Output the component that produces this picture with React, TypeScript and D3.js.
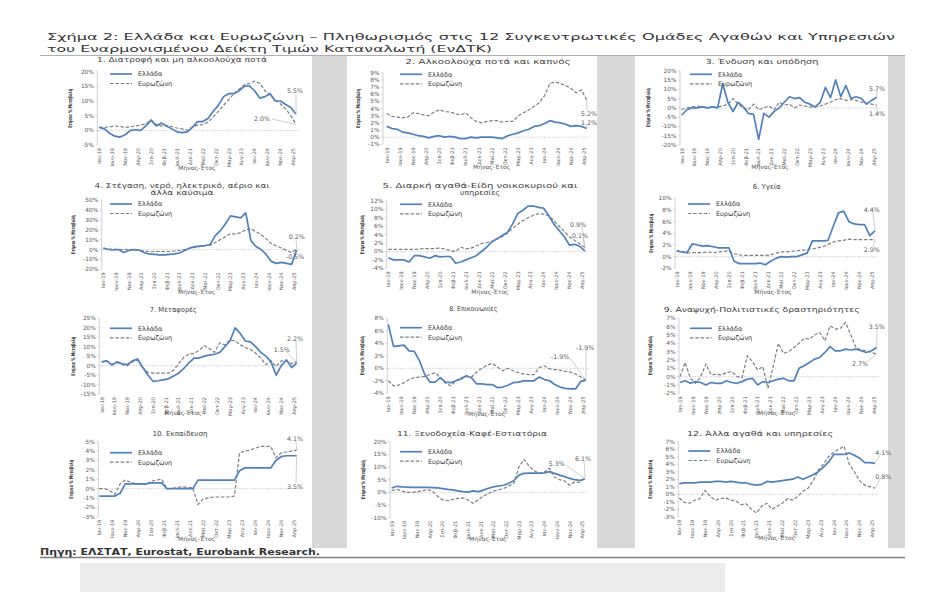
import React from "react";
import * as d3 from "d3";

const FONT = "'DejaVu Sans', Verdana, sans-serif";
const GR_COLOR = "#4f81bd";
const EZ_COLOR = "#7f7f7f";
const TXT = "#404040";

const monthLabels = ["Ιαν-19","Ιουν-19","Νοε-19","Απρ-20","Σεπ-20","Φεβ-21","Ιουλ-21","Δεκ-21","Μαϊ-22","Οκτ-22","Μαρ-23","Αυγ-23","Ιαν-24","Ιουν-24","Νοε-24","Απρ-25"];
const legendNames = ["Ελλάδα", "Ευρωζώνη"];

const gr1 = [1.0,0.5,-1.0,-2.0,-2.3,-1.5,0.0,0.2,0.0,1.5,3.5,1.5,2.5,1.5,0.5,-0.5,-0.8,-0.5,1.0,3.0,3.0,4.0,6.5,8.5,11.5,12.5,12.5,13.5,15.0,15.2,13.5,11.0,11.5,12.5,10.0,10.0,8.8,7.8,5.5];
const ez1 = [1.0,1.0,1.2,1.5,1.3,1.0,1.2,1.5,1.8,2.2,3.5,2.0,1.5,1.5,1.3,0.8,0.5,0.0,1.2,1.8,2.0,2.8,4.5,6.5,8.5,10.5,12.5,14.0,15.5,16.0,16.8,16.0,13.5,12.0,10.3,9.0,7.3,5.0,2.0];
const gr2 = [1.5,1.2,1.1,0.7,0.6,0.4,0.2,0.1,-0.1,0.1,0.2,0.0,0.1,0.0,-0.2,-0.2,0.0,-0.1,0.0,0.0,0.0,-0.1,-0.2,0.2,0.4,0.6,0.9,1.1,1.5,1.6,1.9,2.3,2.1,2.0,1.8,1.5,1.6,1.5,1.2];
const ez2 = [3.3,2.9,2.8,2.7,2.8,3.4,3.3,3.1,3.0,3.5,3.8,3.6,3.5,3.3,3.1,3.4,2.7,2.2,2.0,2.2,2.3,2.3,2.1,2.2,2.2,3.0,3.4,3.8,4.3,4.8,5.8,7.5,7.7,7.5,7.2,6.8,6.2,6.6,5.2];
const gr3 = [-4,-1,0,0,0.5,0,0.5,0,13,3,-2,3,0.5,-3,-3.5,-17,-3,-5,-2,0,3,6,5,5.5,3,2,0.5,3,11,5.5,15,6,12,5,6,5,2,4,5.7];
const ez3 = [-1,0,0.5,1,0.5,0,0.3,0.5,1,2,5,2,0,-1,2,-1,0,1,-1,3,1.5,2,0,1.5,1,0.5,0.5,1,2,3,4.5,5,4,4.5,4,3,2.5,2,1.4];
const gr4 = [1.5,0,-0.5,0,-3,-1,0,-0.5,-3,-4.5,-5,-5.5,-5.5,-5,-4.5,-3.5,-1,1.5,3,3.5,4,5,14,19,26,34,33,32,37,9,3,0,-5,-12,-14,-13,-14,-15,-0.5];
const ez4 = [1,0.5,0.5,0,0,0,-0.5,-1,-1.5,-2,-2,-2,-2,-2,-1.5,-1,0,1,2,3,4,4.5,7,10,13,16,15.5,17,20,21,18,15,11,6,3.5,1.5,-1,-3,0.2];
const gr5 = [-1.5,-2,-2,-2,-2.5,-1,-1,-1.3,-1.6,-1,-1.3,-1.2,-1.2,-2.8,-2.5,-2,-1.5,-1,0,1,2.3,3,3.8,4.5,6.5,9,9.8,10.8,10.8,10.5,10.3,8.5,6.5,5,3.5,1.5,1.7,1.2,0.1];
const ez5 = [0.5,0.5,0.5,0.5,0.5,0.5,0.6,0.7,0.7,0.7,0.8,0.6,0.2,0,1,0.6,0.8,1.3,1.9,2.1,2.4,3,3.5,4.3,5.5,6.5,7.3,8,8.6,9,8.9,8.5,7.3,6,4.8,3.5,2.6,1.8,0.9];
const gr6 = [1,0.8,0.7,2.2,2,1.8,1.9,1.7,1.5,1.5,1.5,-0.8,-1.2,-1.2,-1.2,-1.2,-1.1,-1.4,-0.8,-0.3,0,-0.1,0,0,0.3,0.6,2.7,2.7,2.7,2.8,5.2,7.5,7.8,6,5.6,5.5,5.5,3.6,4.4];
const ez6 = [1,0.8,0.6,0.7,0.7,0.7,0.8,0.7,0.8,0.9,1,0.5,0.3,0.2,0.2,0.2,0.2,0.2,0.3,0.6,0.8,0.8,0.9,1.0,1.1,1.2,1.3,1.5,1.7,2.1,2.5,2.7,2.8,3.0,2.9,2.9,2.9,2.9,2.9];
const gr7 = [2,2.5,0.3,2,1,0.5,2.5,3.5,-1,-5,-8.3,-8,-7.5,-7,-5.5,-4,-1.5,1.5,4,4,5,5.5,6,7,10,13,20,17,13,12.5,10,7,5,2,-5,0,3,-1,1.5];
const ez7 = [2,2.5,0.8,1.5,0.5,0,2,3,-1,-3.5,-4,-4,-4,-4,-2.5,1,4.5,6,6.5,8,10.5,9,7,12,11,13.5,13,11,9.5,8.5,6.5,4,0.5,2.5,-0.5,2.5,2.5,1,2.2];
const gr8 = [7,3.5,3.6,3.7,2.8,2.7,1.2,-1.0,-2.2,-2.2,-1.5,-2.2,-2.3,-2.0,-1.7,-1.2,-1.5,-2.5,-2.5,-2.6,-2.6,-3.1,-3.0,-2.7,-2.3,-2.2,-2.0,-2.0,-2.0,-1.4,-1.8,-2.0,-2.6,-3.0,-3.2,-3.3,-3.3,-2.1,-1.9];
const ez8 = [-2,-2.8,-2.7,-2.3,-1.8,-1.5,-1.4,-1.3,-1.0,-0.7,-1.5,-2.4,-2.8,-2.0,-1.5,-1.3,-1.4,-0.6,0,0.5,0.8,0.2,-0.4,0,-0.4,-0.7,-0.9,-1.0,-1.0,0.1,0.4,-0.1,-0.2,-0.3,-0.5,-0.6,-0.9,-1.4,-1.9];
const gr9 = [-0.7,-0.5,-0.8,-0.6,-0.7,-1.0,-0.7,-0.8,-0.8,-0.5,-0.7,-0.8,-0.6,-0.3,-0.2,-1.0,-0.6,-0.7,-0.5,-0.3,-0.2,-0.5,-0.5,1.0,1.3,1.7,2.1,2.3,2.9,3.6,3.1,3.1,3.3,3.2,3.3,3.1,2.9,3.1,3.5];
const ez9 = [0,1.7,-0.2,-0.8,0,1.5,0.2,0.3,0.2,0.5,0.6,0.0,-0.1,2.5,1.8,0.8,1.2,-1.4,1.2,4.0,2.8,3.0,3.5,4.0,4.6,4.5,5.0,5.3,4.3,6.1,5.7,5.8,6.5,5.0,3.5,3.2,3.1,2.9,2.7];
const gr10 = [-0.8,-0.8,-0.8,-0.8,-0.5,0.5,0.5,0.5,0.5,0.5,0.6,0.6,0.6,0,0,0,0,0,0,0.9,0.9,0.9,0.9,0.9,0.9,0.9,0.9,1.9,2.2,2.2,2.2,2.2,2.2,2.2,3.0,3.4,3.5,3.5,3.5];
const ez10 = [0,0,-0.2,-0.6,0.5,0.9,0.7,0.5,0.5,0.4,0.8,0.9,1.0,0,0,0.1,0.2,0.1,0.1,-1.7,-1.1,-1.0,-0.9,-0.9,-0.9,-0.9,-0.8,3.8,4.0,4.1,4.3,4.5,4.5,4.5,3.3,3.8,3.9,4.0,4.1];
const gr11 = [1.7,2.4,2.2,2.1,2.0,2.0,2.0,2.0,1.9,1.8,1.5,1.2,1.0,0.6,0.3,0.1,0.6,0.3,0.9,1.6,2.2,2.5,2.8,3.6,4.6,6.8,7.5,7.6,7.6,7.6,7.7,8.2,7.5,6.8,6.2,5.5,5.0,4.7,5.3];
const ez11 = [0.7,1.2,0.5,0.0,0.0,0.3,0.5,1.2,0.5,-1.5,-2.9,-3.3,-2.8,-2.4,-2.2,-3.0,-4.3,-3.0,-1.5,-0.5,0.5,1.0,1.5,2.5,3.5,10.0,13.0,10.5,8.5,7.5,8.0,9.5,6.0,5.0,4.5,2.8,4.2,3.9,6.1];
const gr12 = [1.4,1.5,1.5,1.5,1.6,1.6,1.6,1.7,1.7,1.6,1.7,1.6,1.5,1.5,1.3,1.2,1.3,1.7,1.6,1.7,1.8,1.9,2.0,2.3,2.0,2.3,2.6,3.0,3.6,4.3,5.3,5.3,5.3,5.5,5.2,4.8,4.2,4.2,4.1];
const ez12 = [-0.5,-1.1,-1.2,-0.8,-0.6,0.5,-0.3,-0.8,-0.6,-0.5,-0.8,-0.9,-1.4,-1.3,-2.0,-2.5,-1.6,-1.2,-2.0,-1.6,-1.2,-0.6,-0.8,-0.3,0.4,0.8,1.8,3.2,4.0,5.0,5.6,6.0,6.4,4.0,3.0,1.8,1.2,1.0,0.8];

type Ann = { t: string; s: "gr" | "ez"; x: number; y: number; lx: number; ly: number };
type P = {
  title: string[]; tw: number[]; gr: number[]; ez: number[]; yMin: number; yMax: number; step: number;
  x0: number; x1: number; yTop: number; yBot: number; ax: number;
  tx: number; ty: number; lgx: number; lgy: number; ylx: number; xtx: number; xty: number;
  ann: Ann[];
};

const panels: P[] = [
  { title: ["1. Διατροφή και μη αλκοολούχα ποτά"], tw: [170], gr: gr1, ez: ez1, yMin: -5, yMax: 20, step: 5,
    x0: 99.3, x1: 296, yTop: 71.7, yBot: 145, ax: 97.3, tx: 182, ty: 60, lgx: 110, lgy: 74, ylx: 70, xtx: 197, xty: 168,
    ann: [{ t: "5.5%", s: "gr", x: 295, y: 91, lx: 296, ly: 94 }, { t: "2.0%", s: "ez", x: 262, y: 119, lx: 272, ly: 119 }] },
  { title: ["2. Αλκοολούχα ποτά και καπνός"], tw: [165], gr: gr2, ez: ez2, yMin: -1, yMax: 9, step: 1,
    x0: 386.7, x1: 586.7, yTop: 72.7, yBot: 144.3, ax: 383, tx: 488, ty: 61.7, lgx: 400, lgy: 74.3, ylx: 358, xtx: 491.7, xty: 167,
    ann: [{ t: "5.2%", s: "ez", x: 589, y: 114, lx: 587, ly: 111 }, { t: "1.2%", s: "gr", x: 589, y: 122.5, lx: 587, ly: 125 }] },
  { title: ["3. Ένδυση και υπόδηση"], tw: [113], gr: gr3, ez: ez3, yMin: -20, yMax: 20, step: 5,
    x0: 681.7, x1: 876.7, yTop: 70.7, yBot: 145, ax: 680, tx: 762, ty: 61.7, lgx: 690, lgy: 74.3, ylx: 648, xtx: 770, xty: 167,
    ann: [{ t: "5.7%", s: "gr", x: 877, y: 88.3, lx: 877, ly: 91 }, { t: "1.4%", s: "ez", x: 877, y: 114, lx: 877, ly: 111 }] },
  { title: ["4. Στέγαση, νερό, ηλεκτρικό, αέριο και", "άλλα καύσιμα"], tw: [175, 63], gr: gr4, ez: ez4, yMin: -20, yMax: 50, step: 10,
    x0: 103.3, x1: 296.7, yTop: 200, yBot: 269.3, ax: 101.7, tx: 182, ty: 185.8, lgx: 110, lgy: 204, ylx: 73, xtx: 196.7, xty: 292.3,
    ann: [{ t: "0.2%", s: "ez", x: 296.7, y: 236.7, lx: 296, ly: 239 }, { t: "-0.5%", s: "gr", x: 295, y: 256.7, lx: 293, ly: 254 }] },
  { title: ["5. Διαρκή αγαθά-Είδη νοικοκυριού και", "υπηρεσίες"], tw: [195, 40], gr: gr5, ez: ez5, yMin: -4, yMax: 12, step: 2,
    x0: 388.3, x1: 585, yTop: 201, yBot: 268.3, ax: 386.7, tx: 480, ty: 185.2, lgx: 400, lgy: 204.3, ylx: 362, xtx: 490, xty: 291.7,
    ann: [{ t: "0.9%", s: "ez", x: 578, y: 225, lx: 582, ly: 227 }, { t: "0.1%", s: "gr", x: 580, y: 236, lx: 583, ly: 238 }] },
  { title: ["6. Υγεία"], tw: [28], gr: gr6, ez: ez6, yMin: -2, yMax: 10, step: 2,
    x0: 676.7, x1: 875, yTop: 198.3, yBot: 268.3, ax: 675, tx: 766.7, ty: 186.7, lgx: 688, lgy: 204, ylx: 651, xtx: 773, xty: 292.3,
    ann: [{ t: "4.4%", s: "gr", x: 871.7, y: 209.3, lx: 873, ly: 212 }, { t: "2.9%", s: "ez", x: 871.7, y: 250, lx: 873, ly: 247 }] },
  { title: ["7. Μεταφορές"], tw: [47], gr: gr7, ez: ez7, yMin: -15, yMax: 25, step: 5,
    x0: 101.7, x1: 296.7, yTop: 318.3, yBot: 394, ax: 99.3, tx: 173.3, ty: 310, lgx: 110, lgy: 328.3, ylx: 73, xtx: 183, xty: 413.3,
    ann: [{ t: "2.2%", s: "ez", x: 295, y: 338.3, lx: 296, ly: 341 }, { t: "1.5%", s: "gr", x: 281.7, y: 350, lx: 287, ly: 352 }] },
  { title: ["8. Επικοινωνίες"], tw: [48], gr: gr8, ez: ez8, yMin: -4, yMax: 8, step: 2,
    x0: 388.3, x1: 586, yTop: 318.3, yBot: 393.3, ax: 387.3, tx: 473.3, ty: 309, lgx: 400, lgy: 327.7, ylx: 362, xtx: 486.7, xty: 414.3,
    ann: [{ t: "-1.9%", s: "ez", x: 560, y: 356.7, lx: 570, ly: 358 }, { t: "-1.9%", s: "gr", x: 585, y: 347.7, lx: 586, ly: 350 }] },
  { title: ["9. Αναψυχή-Πολιτιστικές δραστηριότητες"], tw: [196], gr: gr9, ez: ez9, yMin: -2, yMax: 7, step: 1,
    x0: 680, x1: 876.7, yTop: 318.3, yBot: 393.3, ax: 679, tx: 761.7, ty: 310, lgx: 690, lgy: 328.3, ylx: 650, xtx: 776.7, xty: 413.3,
    ann: [{ t: "3.5%", s: "gr", x: 876.7, y: 326.7, lx: 877, ly: 329 }, { t: "2.7%", s: "ez", x: 860, y: 363.3, lx: 868, ly: 361 }] },
  { title: ["10. Εκπαίδευση"], tw: [55], gr: gr10, ez: ez10, yMin: -3, yMax: 5, step: 1,
    x0: 99.3, x1: 296.7, yTop: 441.7, yBot: 516.7, ax: 98.3, tx: 180, ty: 433.3, lgx: 110, lgy: 452.7, ylx: 71, xtx: 196.7, xty: 539.3,
    ann: [{ t: "4.1%", s: "ez", x: 295, y: 438.3, lx: 296, ly: 441 }, { t: "3.5%", s: "gr", x: 295, y: 486.7, lx: 296, ly: 483 }] },
  { title: ["11. Ξενοδοχεία-Καφέ-Εστιατόρια"], tw: [150], gr: gr11, ez: ez11, yMin: -10, yMax: 20, step: 5,
    x0: 391.7, x1: 585, yTop: 441.7, yBot: 517.7, ax: 390, tx: 472, ty: 433.3, lgx: 400, lgy: 451.7, ylx: 363, xtx: 488, xty: 539.3,
    ann: [{ t: "6.1%", s: "ez", x: 583, y: 458.3, lx: 584, ly: 461 }, { t: "5.3%", s: "gr", x: 556.7, y: 463.3, lx: 566, ly: 465 }] },
  { title: ["12. Άλλα αγαθά και υπηρεσίες"], tw: [146], gr: gr12, ez: ez12, yMin: -3, yMax: 7, step: 1,
    x0: 679.3, x1: 875, yTop: 441.7, yBot: 516.7, ax: 678.3, tx: 760, ty: 433.3, lgx: 688.3, lgy: 451, ylx: 650, xtx: 776.7, xty: 538.3,
    ann: [{ t: "4.1%", s: "gr", x: 883.3, y: 452.3, lx: 880, ly: 455 }, { t: "0.8%", s: "ez", x: 883.3, y: 476.7, lx: 880, ly: 479 }] },
];

function Panel({ p }: { p: P }) {
  const xg = d3.scaleLinear().domain([0, p.gr.length - 1]).range([p.x0, p.x1]);
  const xe = d3.scaleLinear().domain([0, p.ez.length - 1]).range([p.x0, p.x1]);
  const y = d3.scaleLinear().domain([p.yMin, p.yMax]).range([p.yBot, p.yTop]);
  const lineG = d3.line<number>().x((_, i) => xg(i)).y((d) => y(d));
  const lineE = d3.line<number>().x((_, i) => xe(i)).y((d) => y(d));
  const yTicks = d3.range(p.yMin, p.yMax + p.step / 2, p.step);
  const n = p.gr.length;
  const xPos = monthLabels.map((_, k) => xg(((k * 5) / 76) * (n - 1)));
  const endG = { x: xg(n - 1), y: y(p.gr[n - 1]) };
  const endE = { x: xe(p.ez.length - 1), y: y(p.ez[p.ez.length - 1]) };
  const y0 = y(0);
  return (
    <g fontFamily={FONT}>
      {p.title.map((t, i) => (
        <text key={i} x={p.tx} y={p.ty + 2.4 + i * 7} textAnchor="middle" fontSize={7} fill={TXT}
          textLength={p.tw[i]} lengthAdjust="spacingAndGlyphs">{t}</text>
      ))}
      <line x1={p.ax} x2={p.ax} y1={p.yTop} y2={p.yBot} stroke="#bfbfbf" strokeWidth={0.7} />
      {yTicks.map((v) => (
        <g key={v}>
          <line x1={p.ax - 2} x2={p.ax} y1={y(v)} y2={y(v)} stroke="#bfbfbf" strokeWidth={0.6} />
          <text x={p.ax - 3.5} y={y(v) + 2} textAnchor="end" fontSize={5.8} fill="#595959">{`${v}%`}</text>
        </g>
      ))}
      <line x1={p.ax} x2={p.x1 + 3} y1={y0} y2={y0} stroke="#c8c8c8" strokeWidth={0.7} strokeDasharray="1.6,1" />
      {xPos.map((xp, k) => (
        <line key={k} x1={xp} x2={xp} y1={y0} y2={y0 + 1.5} stroke="#c8c8c8" strokeWidth={0.6} />
      ))}
      {monthLabels.map((m, k) => (
        <text key={m} transform={`translate(${xPos[k] + 1.8},${p.yBot + 3}) rotate(-90)`} textAnchor="end" fontSize={5} fill="#595959">{m}</text>
      ))}
      <text x={p.xtx} y={p.xty + 2} textAnchor="middle" fontSize={6} fill="#595959">Μήνας-Έτος</text>
      <text transform={`translate(${p.ylx + 1.8},${(p.yTop + p.yBot) / 2}) rotate(-90)`} textAnchor="middle" fontSize={5.2}
        fontWeight="bold" fill={TXT} textLength={39} lengthAdjust="spacingAndGlyphs">Ετήσια % Μεταβολή</text>
      <path d={lineE(p.ez) || ""} fill="none" stroke={EZ_COLOR} strokeWidth={1.2} strokeDasharray="3.5,1.8" />
      <path d={lineG(p.gr) || ""} fill="none" stroke={GR_COLOR} strokeWidth={1.7} strokeLinejoin="round" />
      <line x1={p.lgx} x2={p.lgx + 22} y1={p.lgy} y2={p.lgy} stroke={GR_COLOR} strokeWidth={1.7} />
      <text x={p.lgx + 28} y={p.lgy + 2.3} fontSize={6.5} fill={TXT}>{legendNames[0]}</text>
      <line x1={p.lgx} x2={p.lgx + 22} y1={p.lgy + 9.5} y2={p.lgy + 9.5} stroke={EZ_COLOR} strokeWidth={1.2} strokeDasharray="3.5,1.8" />
      <text x={p.lgx + 28} y={p.lgy + 11.8} fontSize={6.5} fill={TXT}>{legendNames[1]}</text>
      {p.ann.map((a, i) => {
        const e = a.s === "gr" ? endG : endE;
        return (
          <g key={i}>
            <line x1={a.lx} y1={a.ly} x2={e.x} y2={e.y} stroke="#b0b0b0" strokeWidth={0.6} />
            <text x={a.x} y={a.y + 2.2} textAnchor="middle" fontSize={6.3} fill="#595959">{a.t}</text>
          </g>
        );
      })}
    </g>
  );
}

export default function App() {
  return (
    <svg width={931} height={592} viewBox="0 0 931 592" style={{ position: "absolute", left: 0, top: 0, background: "#fff" }}>
      <rect x={0} y={0} width={931} height={592} fill="#ffffff" />
      <rect x={312} y={56} width={35} height={492} fill="#d9d9d9" />
      <rect x={597} y={56} width={38} height={492} fill="#d9d9d9" />
      <rect x={888} y={56} width={17} height={492} fill="#d9d9d9" />
      <rect x={80} y={563} width={645} height={29} fill="#ececec" />
      <line x1={40} x2={905} y1={557.5} y2={557.5} stroke="#808080" strokeWidth={1.5} />
      <line x1={40} x2={905} y1={55.5} y2={55.5} stroke="#9a9a9a" strokeWidth={0.8} />
      <text x={47} y={40} fontFamily={FONT} fontSize={9.5} fill="#333" textLength={848} lengthAdjust="spacingAndGlyphs">Σχήμα 2: Ελλάδα και Ευρωζώνη – Πληθωρισμός στις 12 Συγκεντρωτικές Ομάδες Αγαθών και Υπηρεσιών</text>
      <text x={47} y={51.5} fontFamily={FONT} fontSize={9.5} fill="#333" textLength={445} lengthAdjust="spacingAndGlyphs">του Εναρμονισμένου Δείκτη Τιμών Καταναλωτή (ΕνΔΤΚ)</text>
      {panels.map((p, i) => <Panel key={i} p={p} />)}
      <text x={40} y={555} fontFamily={FONT} fontSize={9.5} fontWeight="bold" fill="#333" textLength={280} lengthAdjust="spacingAndGlyphs">Πηγη: ΕΛΣΤΑΤ, Eurostat, Eurobank Research.</text>
    </svg>
  );
}
